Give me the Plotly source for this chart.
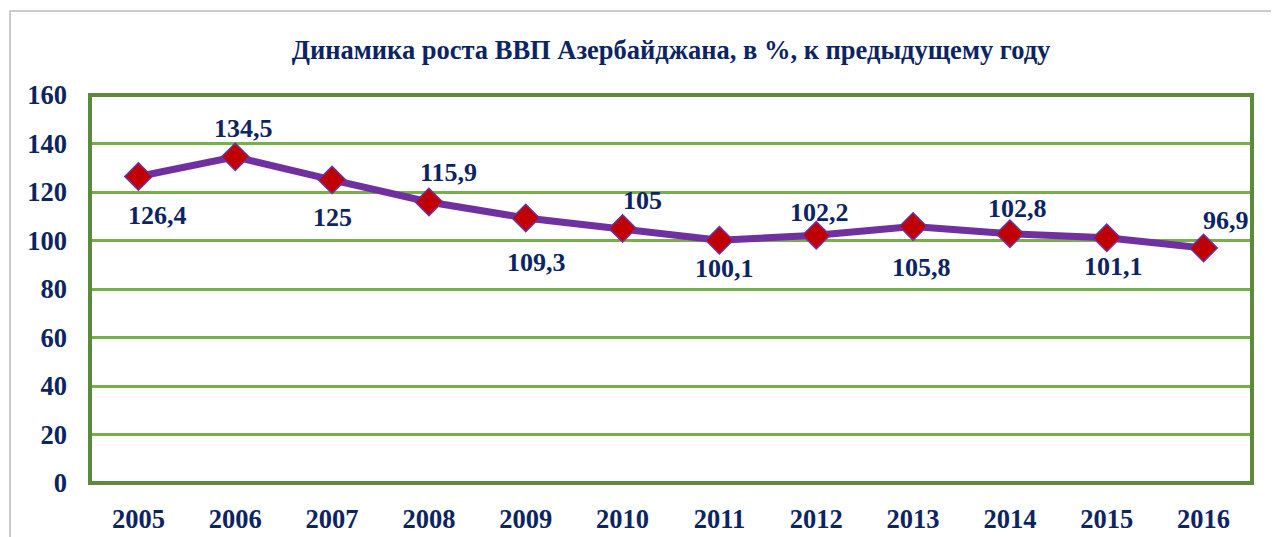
import plotly.graph_objects as go

years = ["2005", "2006", "2007", "2008", "2009", "2010", "2011", "2012", "2013", "2014", "2015", "2016"]
values = [126.4, 134.5, 125, 115.9, 109.3, 105, 100.1, 102.2, 105.8, 102.8, 101.1, 96.9]
labels = ["126,4", "134,5", "125", "115,9", "109,3", "105", "100,1", "102,2", "105,8", "102,8", "101,1", "96,9"]

# label placement offsets in pixels (style only)
label_dx = [19, 8, 0, 20, 11, 20, 5, 3, 8, 8, 7, 22]
label_dy = [39, -28, 38, -29, 45, -28, 28, -23, 41, -25, 29, -28]

navy = "#0c2461"
fnt = "Liberation Serif, Times New Roman, serif"

W, H = 1271, 529
L, R, T, B = 82, 27, 87, 54
PW, PH = W - L - R, H - T - B

fig = go.Figure()
fig.add_trace(go.Scatter(
    x=years, y=values, mode="lines+markers",
    line=dict(color="#7030a0", width=7),
    marker=dict(symbol="diamond", size=21, color="#c00000", line=dict(color="#7030a0", width=1.5)),
    cliponaxis=False,
))

# category axis: annotation x is the category index
annotations = [
    dict(x=i, y=yv, xref="x", yref="y", text=f"<b>{t}</b>", showarrow=False,
         xanchor="center", yanchor="middle",
         xshift=dx, yshift=-dy, font=dict(family=fnt, size=26, color=navy))
    for i, (yv, t, dx, dy) in enumerate(zip(values, labels, label_dx, label_dy))
]

fig.update_layout(
    width=W, height=H,
    margin=dict(l=L, r=R, t=T, b=B, autoexpand=False),
    paper_bgcolor="white", plot_bgcolor="white",
    showlegend=False,
    title=dict(text="<b>Динамика роста ВВП Азербайджана, в %, к предыдущему году</b>",
               x=(L + PW / 2) / W, xanchor="center", y=1 - 42 / H, yanchor="middle",
               font=dict(family=fnt, size=26.5, color=navy)),
    xaxis=dict(type="category", range=[-0.5, 11.5], showgrid=False, zeroline=False,
               showline=False, ticks="", ticklabelstandoff=17, automargin=False,
               tickfont=dict(family=fnt, size=26.5, color=navy, weight="bold")),
    yaxis=dict(range=[0, 160], dtick=20, showgrid=True, gridcolor="#77b04a", gridwidth=2.5,
               zeroline=False, showline=False, ticks="", ticklabelstandoff=22, automargin=False,
               tickfont=dict(family=fnt, size=26.5, color=navy, weight="bold")),
    annotations=annotations,
    shapes=[
        dict(type="rect", xref="paper", yref="paper", x0=0, x1=1, y0=0, y1=1,
             line=dict(color="#5b8a38", width=4), layer="above"),
        dict(type="rect", xref="paper", yref="paper",
             x0=(2 - L) / PW, x1=(W + 10 - L) / PW,
             y0=-(B + 10) / PH, y1=(PH + T - 3) / PH,
             line=dict(color="#bbbbbb", width=1.5)),
    ],
)

fig.write_html("out.html")
